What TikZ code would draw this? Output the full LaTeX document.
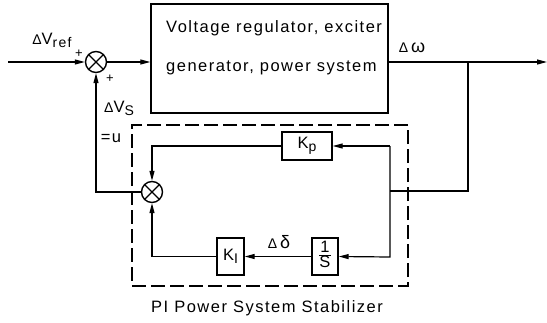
\documentclass[tikz,border=0pt]{standalone}
\usepackage{fontspec}
\setmainfont[LetterSpace=9]{Liberation Sans}
\usetikzlibrary{arrows.meta}
\newcommand\mysub[1]{\raisebox{-0.35ex}{\fontsize{14}{15}\selectfont #1}}
\newcommand\dlt{{\fontsize{14}{15}\selectfont Δ}}
\begin{document}
\begin{tikzpicture}[x=1pt,y=-1pt,
 lbl/.style={font=\fontsize{16.5}{18}\selectfont, inner sep=0},
 blockbox/.style={draw, line width=1.4pt, inner sep=0, font=\fontsize{16.5}{18}\selectfont},
 sumj/.style={draw, circle, line width=1.4pt, minimum size=21pt, inner sep=0,
   path picture={\draw[line width=1.2pt] (path picture bounding box.south west) -- (path picture bounding box.north east)
     (path picture bounding box.north west) -- (path picture bounding box.south east);}},
 conn/.style={line width=1.2pt},
 arr/.style={conn, -{Triangle[length=10pt,width=5pt]}},
 pssbox/.style={draw, line width=1.2pt, dash pattern=on 14pt off 5pt},
]
\useasboundingbox (0,0) rectangle (547,322);
% main loop
\node[sumj] (s1) at (96,62) {};
\node[blockbox, minimum width=237pt, minimum height=109pt] (plant) at (269.5,58.5) {};
\node[lbl, anchor=west] (t1) at (166,28) {Voltage regulator, exciter};
\node[lbl, anchor=west] (t2) at (166,68) {generator, power system};
\coordinate (in) at (8,62);
\coordinate (out) at (547,62);
\coordinate (br) at (468,62);
\draw[arr] (in) -- (s1.west);
\draw[arr] (s1.east) -- (s1.east -| plant.west);
\draw[arr] (s1.east -| plant.east) -- (out);
\node[lbl] (vref) at (52,40) {\dlt V\mysub{ref}};
\node[lbl] (p1) at (79,54) {\fontsize{13}{13}\selectfont +};
\node[lbl] (p2) at (110,79) {\fontsize{13}{13}\selectfont +};
\node[lbl] (dw) at (412,48) {\dlt\,\fontsize{18}{18}\selectfont ω};
\node[lbl] (vs) at (119,108) {\dlt V\mysub{S}};
\node[lbl] (u) at (111,138) {=u};
% stabilizer
\node[pssbox, minimum width=276pt, minimum height=161pt] (pss) at (270,205.5) {};
\node[sumj] (s2) at (152,192) {};
\node[blockbox, minimum width=50pt, minimum height=28pt] (kp) at (307,146) {K\mysub{p}};
\node[blockbox, minimum width=27pt, minimum height=37pt] (ki) at (230.5,256.5) {K\mysub{I}};
\node[blockbox, minimum width=26pt, minimum height=37pt] (integ) at (325,256.5)
  {\begin{tabular}{@{}c@{}}1\\[-3pt]\hline S\end{tabular}};
\node[lbl] (dd) at (279,242) {\dlt\,\fontsize{18}{18}\selectfont δ};
\coordinate (b2) at (468,191);
\coordinate (j) at (390,191);
\coordinate (jtop) at (390,146);
\coordinate (jbot) at (390,257);
\draw[conn] (br) -- (b2) -- (j);
\draw[arr] (jtop) -- (kp.east);
\draw[arr] (jtop) -- (jbot) -- (integ.east);
\draw[arr] (integ.west) -- (ki.east);
\draw[arr] (ki.west) -| (s2.south);
\draw[arr] (kp.west) -| (s2.north);
\draw[arr] (s2.west) -| (s1.south);
\node[lbl] (title) at (267,308) {PI Power System Stabilizer};
\end{tikzpicture}
\end{document}
